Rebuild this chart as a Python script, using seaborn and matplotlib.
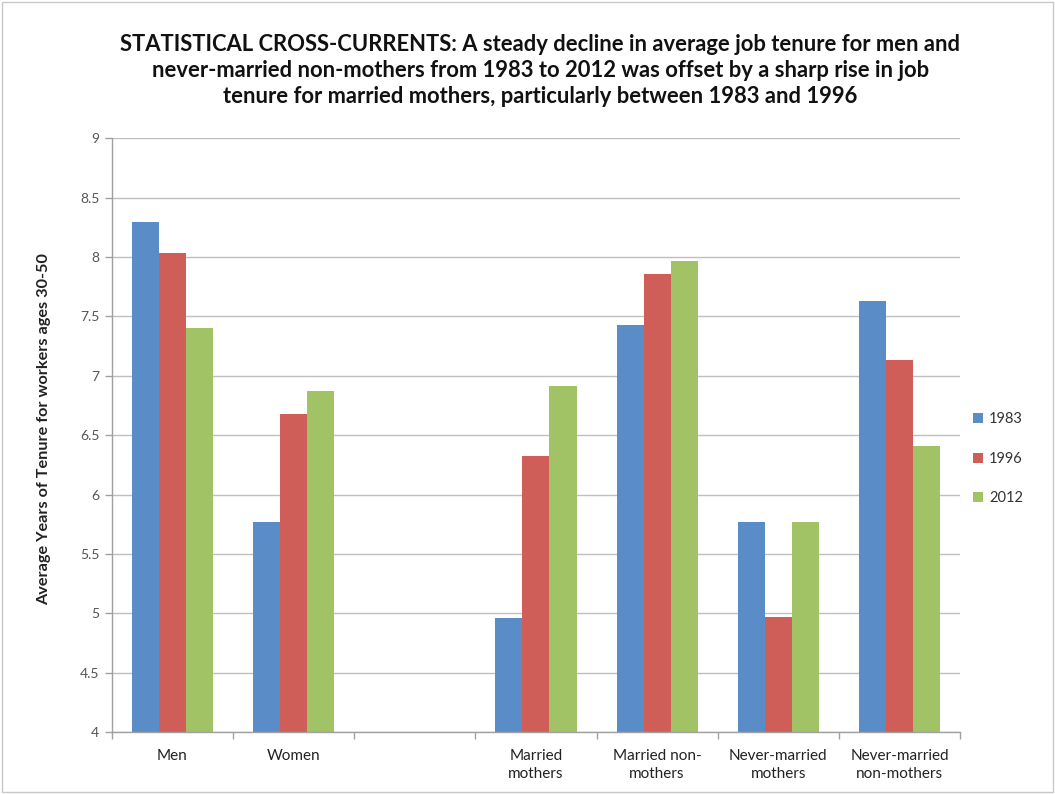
import numpy as np
import pandas as pd
import matplotlib
matplotlib.use("Agg")
import matplotlib.pyplot as plt
import seaborn as sns
from matplotlib.patches import Rectangle

categories = ["Men", "Women", " ", "Married\nmothers", "Married non-\nmothers",
              "Never-married\nmothers", "Never-married\nnon-mothers"]
years = ["1983", "1996", "2012"]
v1983 = [8.29, 5.77, np.nan, 4.96, 7.43, 5.77, 7.63]
v1996 = [8.03, 6.68, np.nan, 6.32, 7.86, 4.97, 7.13]
v2012 = [7.40, 6.87, np.nan, 6.91, 7.97, 5.77, 6.41]
colors = ["#5A8DC8", "#CF5D58", "#A2C266"]

title = ("STATISTICAL CROSS-CURRENTS: A steady decline in average job tenure for men and\n"
         "never-married non-mothers from 1983 to 2012 was offset by a sharp rise in job\n"
         "tenure for married mothers, particularly between 1983 and 1996")
ylabel = "Average Years of Tenure for workers ages 30-50"

rows = []
for yr, vals in zip(years, [v1983, v1996, v2012]):
    for c, v in zip(categories, vals):
        rows.append({"category": c, "year": yr, "value": v})
df = pd.DataFrame(rows)

sns.set_theme(style="white")
plt.rcParams["font.family"] = ["Lato", "DejaVu Sans"]

fig = plt.figure(figsize=(10.55, 7.94), dpi=100)
ax = fig.add_axes([0.106, 0.078, 0.804, 0.748])

sns.barplot(data=df, x="category", y="value", hue="year", order=categories,
            hue_order=years, palette=colors, width=0.67, ax=ax,
            saturation=1, errorbar=None, linewidth=0)
ax.set_ylim(4, 9)
ax.set_xlim(-0.5, len(categories) - 0.5)
ax.set_yticks(np.arange(4, 9.01, 0.5))
ax.set_yticklabels([f"{t:g}" for t in np.arange(4, 9.01, 0.5)], fontsize=10, color="#555555")
ax.yaxis.grid(True, color="#BFBFBF", linewidth=1)
ax.set_axisbelow(True)

ax.set_xticks(range(len(categories)))
ax.set_xticklabels(categories, fontsize=11, color="#222222", linespacing=1.35)
ax.tick_params(axis="x", which="major", length=0, pad=12)
ax.set_xticks(np.arange(-0.5, len(categories), 1), minor=True)
ax.tick_params(axis="x", which="minor", length=5, color="#A0A0A0", width=1, direction="out")
ax.tick_params(axis="y", which="major", length=5, color="#A0A0A0", width=1, direction="out", pad=4)
ax.yaxis.set_ticks_position("left")
ax.xaxis.set_ticks_position("bottom")

for s in ["top", "right"]:
    ax.spines[s].set_visible(False)
for s in ["left", "bottom"]:
    ax.spines[s].set_color("#A0A0A0")
    ax.spines[s].set_linewidth(1)

ax.set_xlabel("")
ax.set_ylabel(ylabel, fontsize=11.7, fontweight="bold", color="#222222")
ax.yaxis.set_label_coords(-0.072, 0.51)

handles, labels = ax.get_legend_handles_labels()
ax.legend(handles, labels, loc="center left", bbox_to_anchor=(1.0, 0.46),
          frameon=False, fontsize=10.5, handlelength=0.7, handleheight=0.7,
          labelspacing=1.75, handletextpad=0.4, labelcolor="#333333")

fig.text(0.512, 0.957, title, ha="center", va="top", fontsize=15.8,
         fontweight="bold", color="#111111", linespacing=1.3)

fig.patches.append(Rectangle((0.002, 0.002), 0.996, 0.996, transform=fig.transFigure,
                             fill=False, edgecolor="#C8C8C8", linewidth=1))

fig.savefig("out.png", dpi=100)
